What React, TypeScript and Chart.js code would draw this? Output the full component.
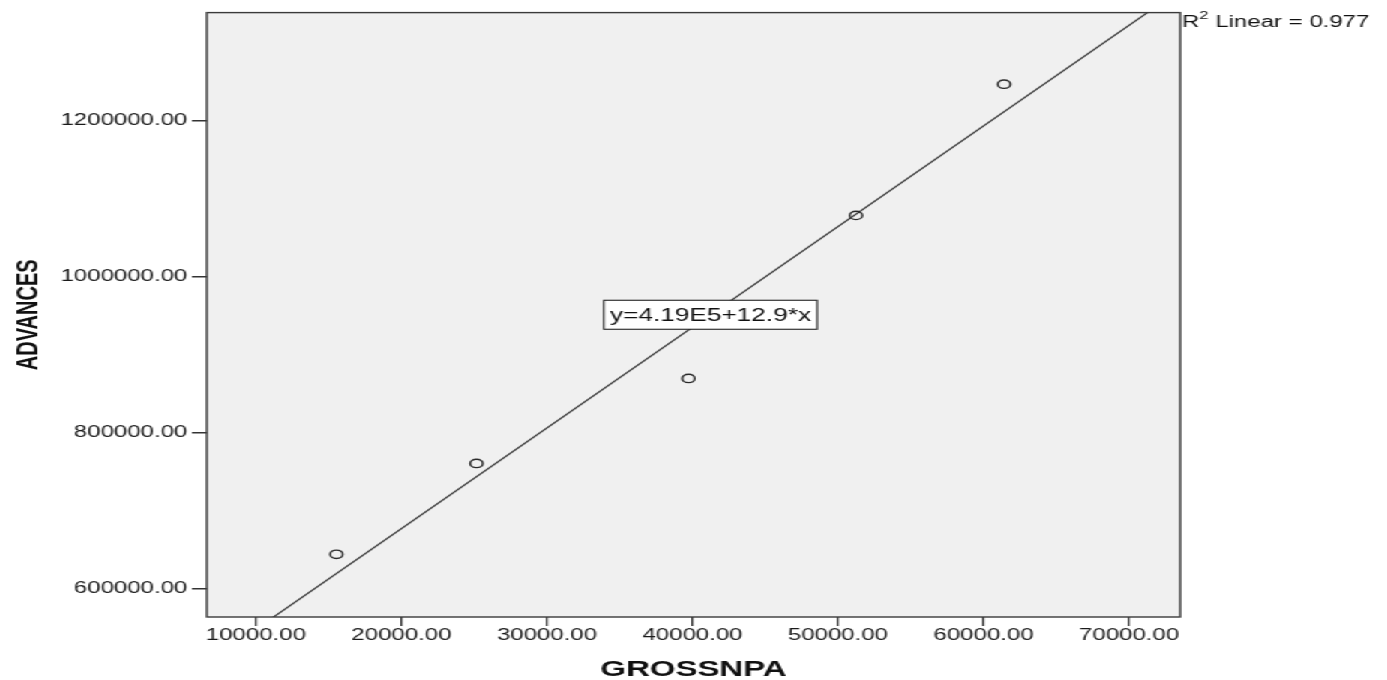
import React, { useEffect, useRef } from "react";
import { Chart, registerables } from "chart.js";

Chart.register(...registerables);

// ---- data ----
const GROSSNPA = [15533, 25155, 39725, 51237, 61409];
const ADVANCES = [644000, 760510, 869427, 1078344, 1246497];
const X_TICKS = [10000, 20000, 30000, 40000, 50000, 60000, 70000];
const Y_TICKS = [600000, 800000, 1000000, 1200000];
const X_RANGE = [6632, 73505];
const Y_RANGE = [563694, 1338217];
const INTERCEPT = 419000;
const SLOPE = 12.9;
const EQUATION = "y=4.19E5+12.9*x";
const R2_PARTS = ["R", "2", " Linear = 0.977"];
const EQ_ANCHOR = [41237, 951000];
const X_TITLE = "GROSSNPA";
const Y_TITLE = "ADVANCES";

// ---- layout constants ----
const CANVAS_W = 925;
const CANVAS_H = 680;
const STRETCH = 1387 / CANVAS_W;
const FONT = "'Liberation Sans', Arial, sans-serif";

const decor = {
  id: "decor",
  beforeDraw(chart: any) {
    const { ctx, chartArea: a } = chart;
    ctx.save();
    ctx.fillStyle = "#f0f0f0";
    ctx.fillRect(a.left, a.top, a.right - a.left, a.bottom - a.top);
    ctx.restore();
  },
  afterDatasetsDraw(chart: any) {
    const { ctx, chartArea: a } = chart;
    ctx.save();
    // frame
    ctx.strokeStyle = "#3a3a3a";
    ctx.lineWidth = 1.4;
    ctx.strokeRect(a.left, a.top, a.right - a.left, a.bottom - a.top);

    // equation box
    const ex = chart.scales.x.getPixelForValue(EQ_ANCHOR[0]);
    const ey = chart.scales.y.getPixelForValue(EQ_ANCHOR[1]);
    ctx.font = `17.5px ${FONT}`;
    const tw = ctx.measureText(EQUATION).width;
    const bw = tw + 8;
    const bh = 29;
    ctx.fillStyle = "#fff";
    ctx.fillRect(ex - bw / 2, ey - bh / 2, bw, bh);
    ctx.strokeStyle = "#222";
    ctx.lineWidth = 1.1;
    ctx.strokeRect(ex - bw / 2, ey - bh / 2, bw, bh);
    ctx.fillStyle = "#111";
    ctx.textAlign = "center";
    ctx.textBaseline = "middle";
    ctx.fillText(EQUATION, ex, ey + 1);

    // R2 label
    ctx.textAlign = "left";
    ctx.textBaseline = "alphabetic";
    let rx = a.right + 1.3;
    const ry = 27;
    ctx.font = `16px ${FONT}`;
    ctx.fillText(R2_PARTS[0], rx, ry);
    rx += ctx.measureText(R2_PARTS[0]).width;
    ctx.font = `11px ${FONT}`;
    ctx.fillText(R2_PARTS[1], rx, ry - 8);
    rx += ctx.measureText(R2_PARTS[1]).width;
    ctx.font = `16px ${FONT}`;
    ctx.fillText(R2_PARTS[2], rx, ry);

    // axis titles
    ctx.font = `bold 22px ${FONT}`;
    ctx.textAlign = "center";
    ctx.fillText(X_TITLE, (a.left + a.right) / 2, 676);

    ctx.save();
    ctx.translate(24.5, (a.top + a.bottom) / 2);
    ctx.rotate(-Math.PI / 2);
    ctx.font = `bold 20px ${FONT}`;
    ctx.textAlign = "center";
    ctx.textBaseline = "alphabetic";
    ctx.fillText(Y_TITLE, 0, 0);
    ctx.restore();

    ctx.restore();
  },
};

export default function App() {
  const ref = useRef<HTMLCanvasElement | null>(null);

  useEffect(() => {
    if (!ref.current) return;
    const points = GROSSNPA.map((x, i) => ({ x, y: ADVANCES[i] }));
    const fit = X_RANGE.map((x) => ({ x, y: INTERCEPT + SLOPE * x }));
    const chart = new Chart(ref.current, {
      type: "scatter",
      data: {
        datasets: [
          {
            type: "line",
            data: fit,
            borderColor: "#333",
            borderWidth: 1.2,
            pointRadius: 0,
            fill: false,
            clip: 0,
          } as any,
          {
            type: "scatter",
            data: points,
            pointStyle: "circle",
            pointRadius: 4.2,
            pointBackgroundColor: "rgba(0,0,0,0)",
            pointBorderColor: "#2a2a2a",
            pointBorderWidth: 1.4,
            showLine: false,
          } as any,
        ],
      },
      options: {
        animation: false,
        responsive: false,
        devicePixelRatio: 1,
        layout: { padding: { left: 0, top: 9.5, right: 138, bottom: 0 } },
        plugins: { legend: { display: false }, tooltip: { enabled: false } },
        scales: {
          x: {
            type: "linear",
            min: X_RANGE[0],
            max: X_RANGE[1],
            afterBuildTicks: (s: any) => {
              s.ticks = X_TICKS.map((v) => ({ value: v }));
            },
            afterFit: (s: any) => {
              s.height = 63;
            },
            grid: {
              display: true,
              drawOnChartArea: false,
              drawTicks: true,
              tickLength: 9,
              color: "#333",
              lineWidth: 1.3,
            },
            border: { display: false },
            ticks: {
              padding: 0,
              color: "#1a1a1a",
              font: { family: FONT, size: 16 },
              maxRotation: 0,
              autoSkip: false,
              callback: (v: any) => Number(v).toFixed(2),
            },
          },
          y: {
            type: "linear",
            min: Y_RANGE[0],
            max: Y_RANGE[1],
            afterBuildTicks: (s: any) => {
              s.ticks = Y_TICKS.map((v) => ({ value: v }));
            },
            afterFit: (s: any) => {
              s.width = 138;
            },
            grid: {
              display: true,
              drawOnChartArea: false,
              drawTicks: true,
              tickLength: 10,
              color: "#333",
              lineWidth: 1.5,
            },
            border: { display: false },
            ticks: {
              padding: 3,
              color: "#1a1a1a",
              font: { family: FONT, size: 16 },
              autoSkip: false,
              callback: (v: any) => Number(v).toFixed(2),
            },
          },
        },
      } as any,
      plugins: [decor],
    });
    return () => chart.destroy();
  }, []);

  return (
    <div
      style={{
        position: "fixed",
        left: 0,
        top: 0,
        width: CANVAS_W,
        height: CANVAS_H,
        background: "#fff",
        transform: `scaleX(${STRETCH})`,
        transformOrigin: "0 0",
      }}
    >
      <canvas
        ref={ref}
        width={CANVAS_W}
        height={CANVAS_H}
        style={{ width: CANVAS_W, height: CANVAS_H, display: "block" }}
      />
    </div>
  );
}
